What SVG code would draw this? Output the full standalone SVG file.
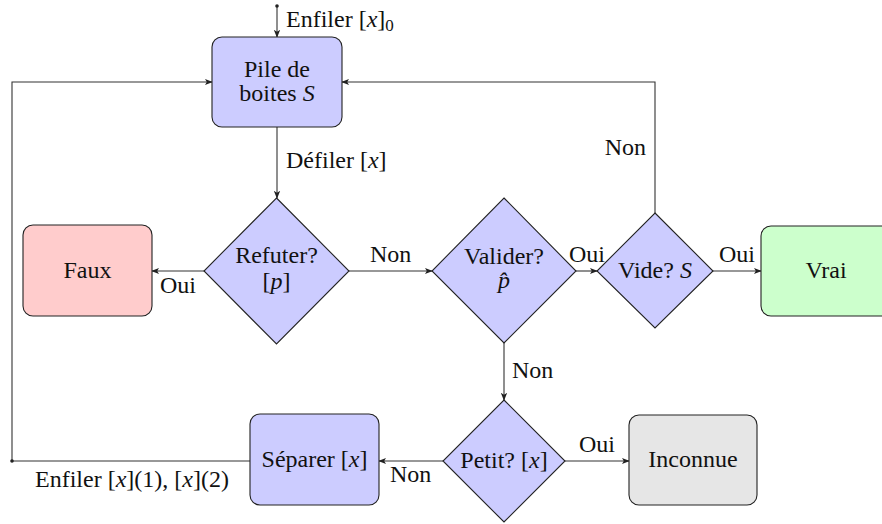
<svg xmlns="http://www.w3.org/2000/svg" width="882" height="524" viewBox="0 0 882 524">
<defs>
<marker id="ar" viewBox="0 0 10 10" refX="9" refY="5" markerWidth="8" markerHeight="8" markerUnits="userSpaceOnUse" orient="auto">
<path d="M0,1 L10,5 L0,9 L2.5,5 Z" fill="#222"/>
</marker>
</defs>
<g id="connectors" fill="none" stroke="#333" stroke-width="1.1">
<path d="M277,6 V37" marker-end="url(#ar)"/>
<path d="M277,127 V198" marker-end="url(#ar)"/>
<path d="M204,271 H152" marker-end="url(#ar)"/>
<path d="M349,271 H432" marker-end="url(#ar)"/>
<path d="M576,271 H597" marker-end="url(#ar)"/>
<path d="M713,271 H761" marker-end="url(#ar)"/>
<path d="M655,213 V82 H342" marker-end="url(#ar)"/>
<path d="M504,343 V400" marker-end="url(#ar)"/>
<path d="M565,461 H629" marker-end="url(#ar)"/>
<path d="M443,461 H379" marker-end="url(#ar)"/>
<path d="M250,461 H12 V82 H212" marker-end="url(#ar)"/>
<circle cx="277" cy="6" r="1.8" fill="#222" stroke="none"/>
<circle cx="12" cy="461" r="1.8" fill="#222" stroke="none"/>
</g>
<g id="labels" fill="#111">
<text font-family="Liberation Serif" font-size="24" x="286" y="27">Enfiler [<tspan font-style="italic">x</tspan>]<tspan font-size="17" dy="4">0</tspan></text>
<text font-family="Liberation Serif" font-size="24" x="286" y="168">D&#233;filer [<tspan font-style="italic">x</tspan>]</text>
<text font-family="Liberation Serif" font-size="24" x="160" y="293">Oui</text>
<text font-family="Liberation Serif" font-size="24" x="370" y="262">Non</text>
<text font-family="Liberation Serif" font-size="24" x="569" y="262">Oui</text>
<text font-family="Liberation Serif" font-size="24" x="719" y="262">Oui</text>
<text font-family="Liberation Serif" font-size="24" x="646" y="155" text-anchor="end">Non</text>
<text font-family="Liberation Serif" font-size="24" x="512" y="378">Non</text>
<text font-family="Liberation Serif" font-size="24" x="579" y="452">Oui</text>
<text font-family="Liberation Serif" font-size="24" x="390" y="482">Non</text>
<text font-family="Liberation Serif" font-size="24" x="35" y="487">Enfiler [<tspan font-style="italic">x</tspan>](1), [<tspan font-style="italic">x</tspan>](2)</text>
</g>
<g id="pile">
<rect x="212" y="37" width="130" height="90" rx="10" fill="#ccccff" stroke="#222" stroke-width="1.1"/>
<text font-family="Liberation Serif" font-size="24" fill="#111" text-anchor="middle" x="277" y="77">Pile de</text>
<text font-family="Liberation Serif" font-size="24" fill="#111" text-anchor="middle" x="277" y="101">boites <tspan font-style="italic">S</tspan></text>
</g>
<g id="refuter">
<polygon points="276.5,198 349,271 276.5,344 204,271" fill="#ccccff" stroke="#222" stroke-width="1.1"/>
<text font-family="Liberation Serif" font-size="24" fill="#111" text-anchor="middle" x="276.5" y="263">Refuter?</text>
<text font-family="Liberation Serif" font-size="24" fill="#111" text-anchor="middle" x="276.5" y="289">[<tspan font-style="italic">p</tspan>]</text>
</g>
<g id="faux">
<rect x="23" y="225" width="129" height="91" rx="10" fill="#ffcccc" stroke="#222" stroke-width="1.1"/>
<text font-family="Liberation Serif" font-size="24" fill="#111" text-anchor="middle" x="87.5" y="278">Faux</text>
</g>
<g id="valider">
<polygon points="504,198 576,271 504,343 432,271" fill="#ccccff" stroke="#222" stroke-width="1.1"/>
<text font-family="Liberation Serif" font-size="24" fill="#111" text-anchor="middle" x="504" y="264">Valider?</text>
<text font-family="Liberation Serif" font-size="24" fill="#111" text-anchor="middle" font-style="italic" x="504" y="288">p&#770;</text>
</g>
<g id="vide">
<polygon points="655,213 713,271 655,328 597,271" fill="#ccccff" stroke="#222" stroke-width="1.1"/>
<text font-family="Liberation Serif" font-size="24" fill="#111" text-anchor="middle" x="655" y="278">Vide? <tspan font-style="italic">S</tspan></text>
</g>
<g id="vrai">
<rect x="761" y="226" width="130" height="90" rx="10" fill="#ccffcc" stroke="#222" stroke-width="1.1"/>
<text font-family="Liberation Serif" font-size="24" fill="#111" text-anchor="middle" x="826" y="278">Vrai</text>
</g>
<g id="petit">
<polygon points="504,400 565,461 504,522 443,461" fill="#ccccff" stroke="#222" stroke-width="1.1"/>
<text font-family="Liberation Serif" font-size="24" fill="#111" text-anchor="middle" x="504" y="468">Petit? [<tspan font-style="italic">x</tspan>]</text>
</g>
<g id="inconnue">
<rect x="629" y="415" width="128" height="90" rx="10" fill="#e6e6e6" stroke="#222" stroke-width="1.1"/>
<text font-family="Liberation Serif" font-size="24" fill="#111" text-anchor="middle" x="693" y="467">Inconnue</text>
</g>
<g id="separer">
<rect x="250" y="414" width="129" height="91" rx="10" fill="#ccccff" stroke="#222" stroke-width="1.1"/>
<text font-family="Liberation Serif" font-size="24" fill="#111" text-anchor="middle" x="314.5" y="467">S&#233;parer [<tspan font-style="italic">x</tspan>]</text>
</g>
</svg>
